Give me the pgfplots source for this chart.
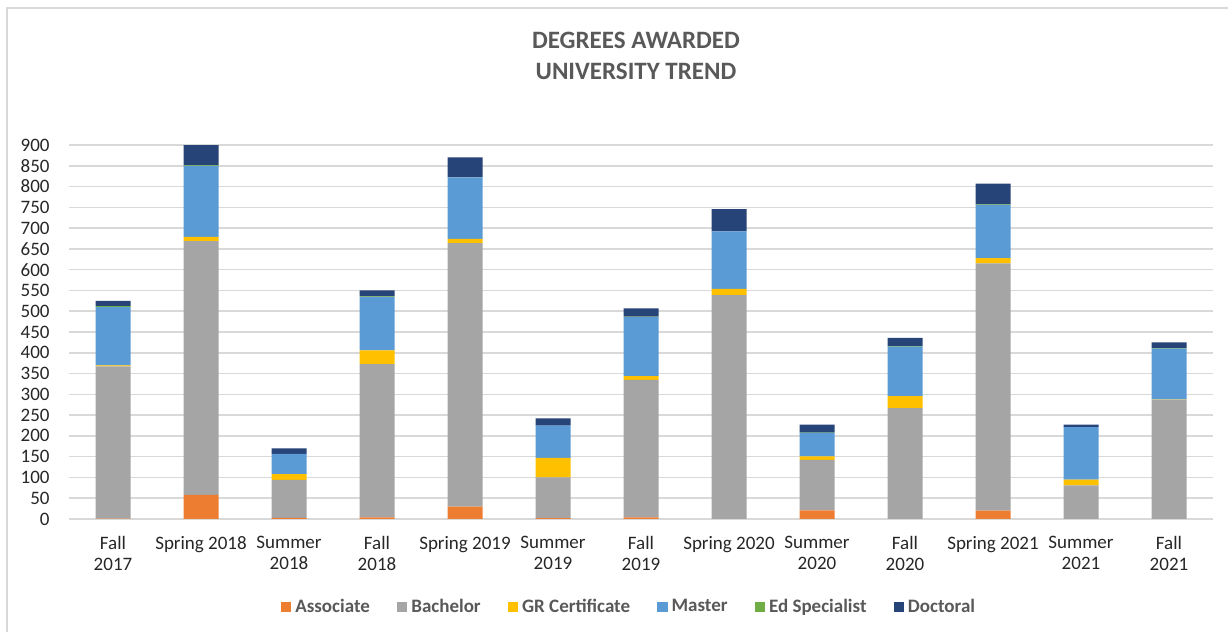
\documentclass[border=0pt]{standalone}
\usepackage{pgfplots}
\pgfplotsset{compat=1.18}
\usepackage{fontspec}
\setmainfont{Carlito}
\definecolor{cAssoc}{HTML}{ED7D31}
\definecolor{cBach}{HTML}{A5A5A5}
\definecolor{cGR}{HTML}{FFC000}
\definecolor{cMaster}{HTML}{5B9BD5}
\definecolor{cEd}{HTML}{70AD47}
\definecolor{cDoc}{HTML}{264478}
\definecolor{gridc}{HTML}{D9D9D9}
\definecolor{titlec}{HTML}{595959}
\definecolor{labc}{HTML}{262626}
\begin{document}
\begin{tikzpicture}
\useasboundingbox (0,0) rectangle (614pt,316pt);
\draw[gridc, line width=0.8pt] (3.5pt,0) -- (3.5pt,312pt) -- (614pt,312pt);
\begin{axis}[
  at={(34.5pt,56.5pt)}, anchor=south west,
  scale only axis, width=572pt, height=187pt,
  ybar stacked, bar width=17.5pt,
  xmin=-0.5, xmax=12.5, ymin=0, ymax=900,
  ytick={0,50,...,900},
  xtick={0,...,12},
  xticklabels={{Fall\\2017},{Spring 2018},{Summer\\2018},{Fall\\2018},{Spring 2019},{Summer\\2019},{Fall\\2019},{Spring 2020},{Summer\\2020},{Fall\\2020},{Spring 2021},{Summer\\2021},{Fall\\2021}},
  major tick length=0pt,
  axis line style={draw=none},
  ymajorgrids, grid style={gridc, line width=0.8pt},
  /pgf/number format/assume math mode=true,
  yticklabel style={font=\fontsize{9.5}{11}\selectfont, text=labc, anchor=east, inner sep=0pt, xshift=-9.5pt},
  xticklabel style={font=\fontsize{9.5}{10.5}\selectfont, text=labc, align=center, anchor=north, inner sep=0pt, yshift=-8.6pt},
  legend style={draw=none, at={(axis description cs:0.5,0)}, anchor=center, xshift=-5.5pt, yshift=-44pt,
    font=\bfseries\fontsize{9.5}{11}\selectfont, text=titlec,
    /tikz/every even column/.append style={column sep=11.5pt}},
  legend columns=6,
  legend image code/.code={\fill (0pt,-2.6pt) rectangle (5.2pt,2.6pt);},
  every axis plot/.append style={draw=none},
]
\addplot[fill=cAssoc] coordinates {(0,1) (1,58) (2,3) (3,4) (4,30) (5,2) (6,4) (7,0) (8,21) (9,0) (10,20) (11,0) (12,0)};
\addplot[fill=cBach] coordinates {(0,366) (1,611) (2,91) (3,369) (4,634) (5,98) (6,331) (7,539) (8,121) (9,267) (10,595) (11,81) (12,287)};
\addplot[fill=cGR] coordinates {(0,3) (1,10) (2,14) (3,33) (4,10) (5,47) (6,9) (7,15) (8,9) (9,29) (10,13) (11,14) (12,1)};
\addplot[fill=cMaster] coordinates {(0,140) (1,170) (2,49) (3,128) (4,148) (5,78) (6,142) (7,138) (8,56) (9,119) (10,128) (11,126) (12,122)};
\addplot[fill=cEd] coordinates {(0,2) (1,2) (2,0) (3,2) (4,1) (5,0) (6,1) (7,0) (8,1) (9,1) (10,1) (11,0) (12,1)};
\addplot[fill=cDoc] coordinates {(0,13) (1,49) (2,13) (3,14) (4,47) (5,17) (6,20) (7,54) (8,19) (9,20) (10,50) (11,6) (12,14)};
\legend{Associate,Bachelor,GR Certificate,Master,Ed Specialist,Doctoral}
\end{axis}
\node[font=\bfseries\fontsize{12.5}{14}\selectfont, text=titlec] at (318pt,296pt) {DEGREES AWARDED};
\node[font=\bfseries\fontsize{12.5}{14}\selectfont, text=titlec] at (318pt,280.5pt) {UNIVERSITY TREND};
\end{tikzpicture}
\end{document}
